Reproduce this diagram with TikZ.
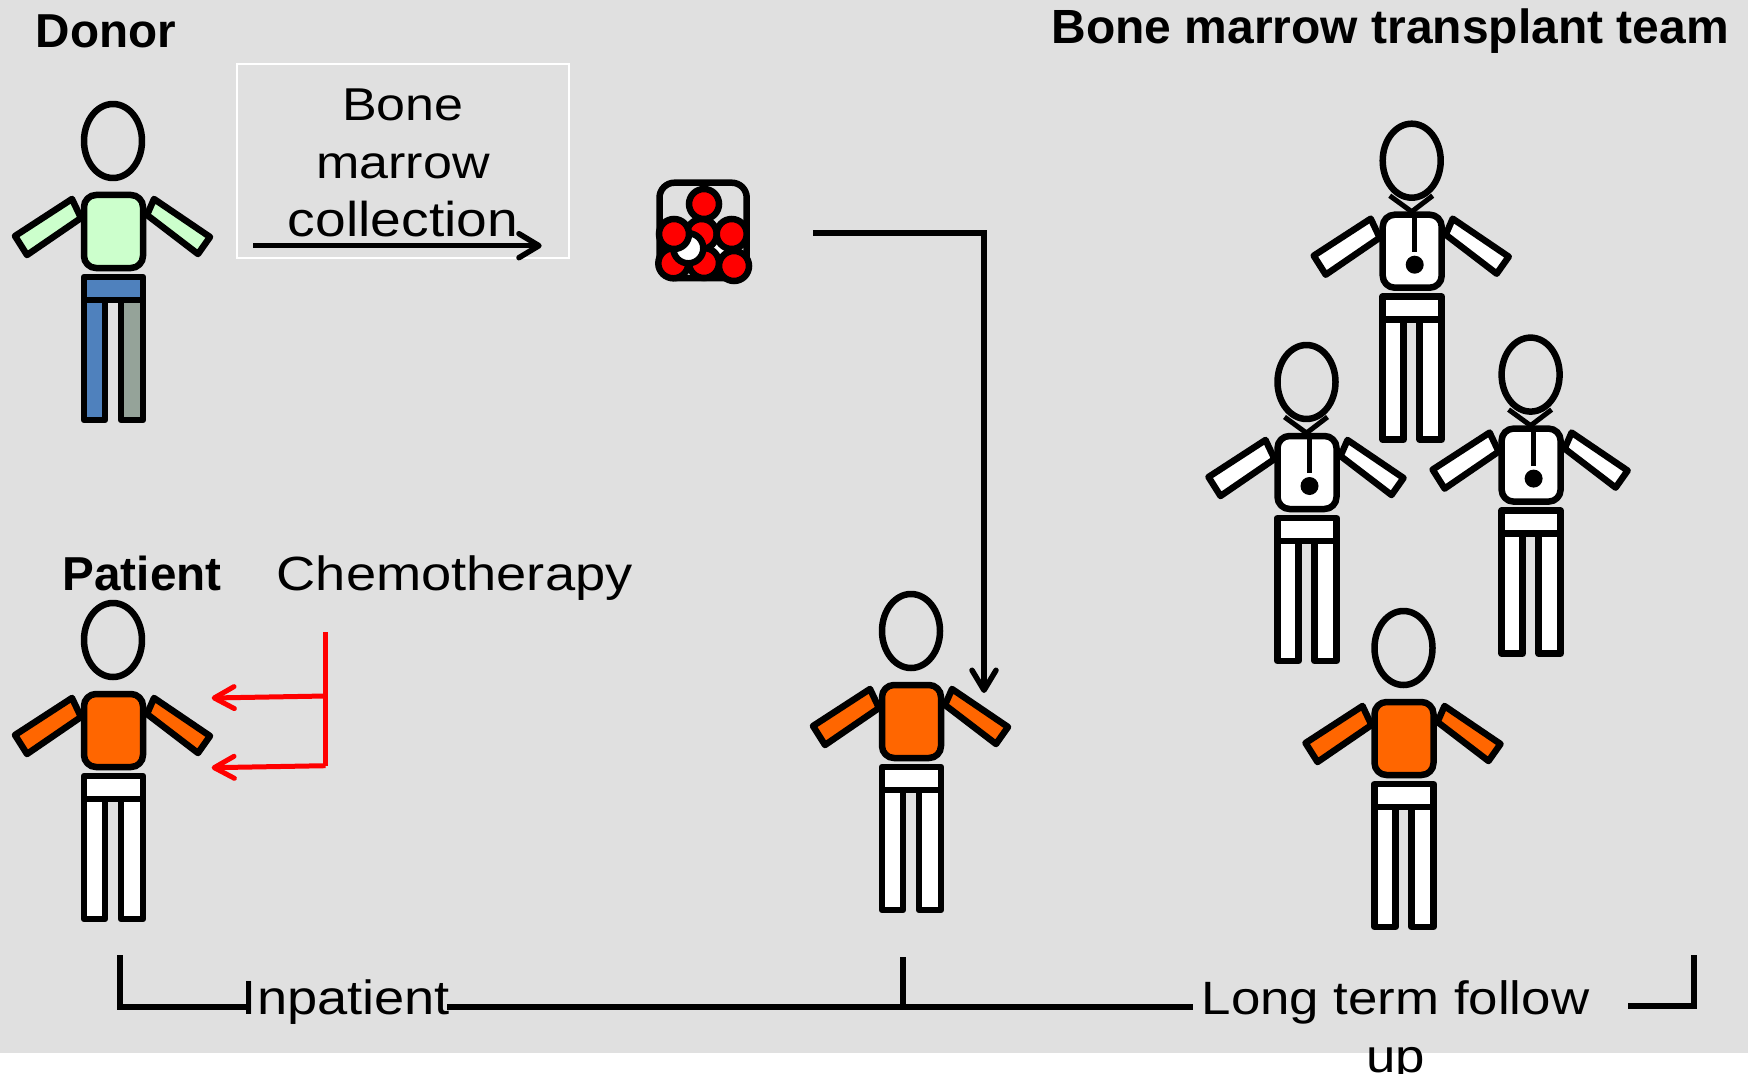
\documentclass[tikz,border=0pt]{standalone}
\usepackage{fontspec}
\usepackage{xcolor}
\setmainfont{Liberation Sans}
\newfontfamily\widesans[FakeStretch=1.13]{Liberation Sans}
\usetikzlibrary{arrows.meta,positioning}
\definecolor{slide}{HTML}{E0E0E0}
\definecolor{shirtgreen}{HTML}{CCFFCC}
\definecolor{pantblue}{HTML}{4F81BD}
\definecolor{pantgrey}{HTML}{95A399}
\definecolor{shirtorange}{HTML}{FF6600}
\definecolor{cellred}{HTML}{FF0000}
\tikzset{limb/.style={draw=black, line width=.65mm, line join=round},
 flow/.style={-{Straight Barb[length=2mm,width=2.4mm,round]}, line width=.55mm},
 drug/.style={-{Straight Barb[length=2mm,width=2.2mm,round]}, line width=.5mm, color=cellred},
 span/.style={line width=.55mm},
 cell/.style={draw=black, line width=.65mm, fill=cellred},
 gapcell/.style={draw=black, line width=.65mm, fill=white},
 lab/.style={font=\widesans\fontsize{13.66}{16.5}\selectfont, inner sep=0pt, align=center},
 head/.style={font=\bfseries\fontsize{13.55}{16}\selectfont, inner sep=0pt}}
% head centre, shirt, hip, left leg, right leg
\newcommand{\personfig}[5]{\begin{scope}[shift={(#1)}]
\draw[limb] (0,0) ellipse [x radius=29,y radius=37];
\draw[limb,fill=#2] (-98,95)--(-41,58)--(-32,77)--(-86,114)--cycle;
\draw[limb,fill=#2] (41,58)--(97,96)--(85,113)--(34,74)--cycle;
\draw[limb,fill=#2,rounded corners=1.2mm] (-29,54) rectangle (30,127);
\draw[limb,fill=#4] (-29,159) rectangle (-8,279);
\draw[limb,fill=#5] (8,159) rectangle (30,279);
\draw[limb,fill=#3] (-29,136) rectangle (30,159);
\end{scope}}
\newcommand{\teamfig}[1]{\personfig{#1}{white}{white}{white}{white}
\begin{scope}[shift={(#1)}]
\draw[line width=.5mm] (-22,35)--(0,51)--(21,35);
\draw[line width=.55mm] (3,51)--(3,91);
\fill (3,104) circle (9);
\end{scope}}

\begin{document}
\begin{tikzpicture}[x=.1mm,y=-.1mm]
\useasboundingbox (0,0) rectangle (1748,1073);
\fill[slide] (0,0) rectangle (1748,1053);
% people
\personfig{113,141}{shirtgreen}{pantblue}{pantblue}{pantgrey}
\personfig{113,640}{shirtorange}{white}{white}{white}
\personfig{911,631}{shirtorange}{white}{white}{white}
\personfig{1403.5,648}{shirtorange}{white}{white}{white}
\teamfig{1411.7,160.7}
\teamfig{1306.5,382}
\teamfig{1530.6,374.6}
% collected cells
\draw[limb,rounded corners=1.5mm] (659.5,182.7) rectangle (746.7,278);
\draw[gapcell] (716,255) circle (15);
\draw[cell] (704,263) circle (15);
\draw[cell] (673.3,263.3) circle (15);
\draw[cell] (701.7,234) circle (15);
\draw[gapcell] (688.3,248.3) circle (15);
\draw[cell] (704,204) circle (15);
\draw[cell] (674,234) circle (15);
\draw[cell] (731.7,234) circle (15);
\draw[cell] (734,266) circle (15);
% labels
\node[head,anchor=base west] (donorlab) at (35,48) {Donor};
\node[head,anchor=base west] (patientlab) at (62,590) {Patient};
\node[head,font=\bfseries\fontsize{13.65}{16}\selectfont,anchor=base west] (teamlab) at (1051,43.5) {Bone marrow transplant team};
\node[lab,anchor=base west] (chemolab) at (276,590.5) {Chemotherapy};
\node[draw=white,line width=.2mm,minimum width=33.2mm,minimum height=19.4mm,anchor=north west] (collectbox) at (236,63.3) {};
\node[lab,anchor=north] (collectlab) at (403,88) {\fontsize{13.1}{16.5}\selectfont Bone\\\fontsize{13.1}{16.5}\selectfont marrow\\\fontsize{13.9}{16.5}\selectfont collection};
\node[lab,anchor=base] (inpatientlab) at (346,1014) {Inpatient};
\node[lab,font=\widesans\fontsize{13.3}{16.5}\selectfont,anchor=north] (followlab) at (1395.5,980) {Long term follow\\up};
% connectors
\coordinate (collectstart) at (253.3,245.7);
\coordinate (collectend) at (541.7,245.7);
\draw[flow] (collectstart)--(collectend);
\coordinate (cellsout) at (813,233);
\coordinate (cellsbend) at (984,233);
\coordinate (cellsin) at (984,693);
\draw[flow] (cellsout)--(cellsbend)--(cellsin);
\coordinate (chemotop) at (325.7,632);
\coordinate (chemomid) at (325.7,696);
\coordinate (chemolow) at (325.7,765.7);
\coordinate (armup) at (211.7,698);
\coordinate (armlow) at (211.7,767.7);
\draw[line width=.5mm,color=cellred] (chemotop)--(chemolow);
\draw[drug] (chemomid)--(armup);
\draw[drug] (chemolow)--(armlow);
\coordinate (spanleft) at (120,955);
\coordinate (spanleftb) at (120,1007);
\coordinate (spanmid) at (903,957);
\coordinate (spanmidb) at (903,1007);
\coordinate (spanright) at (1694,955);
\coordinate (spanrightb) at (1694,1006);
\draw[span] (spanleft)--(spanleftb)--(248,1007);
\draw[span] (447,1007)--(spanmidb);
\draw[span] (spanmid)--(spanmidb)--(1193,1007);
\draw[span] (1628,1006)--(spanrightb)--(spanright);
\end{tikzpicture}
\end{document}
